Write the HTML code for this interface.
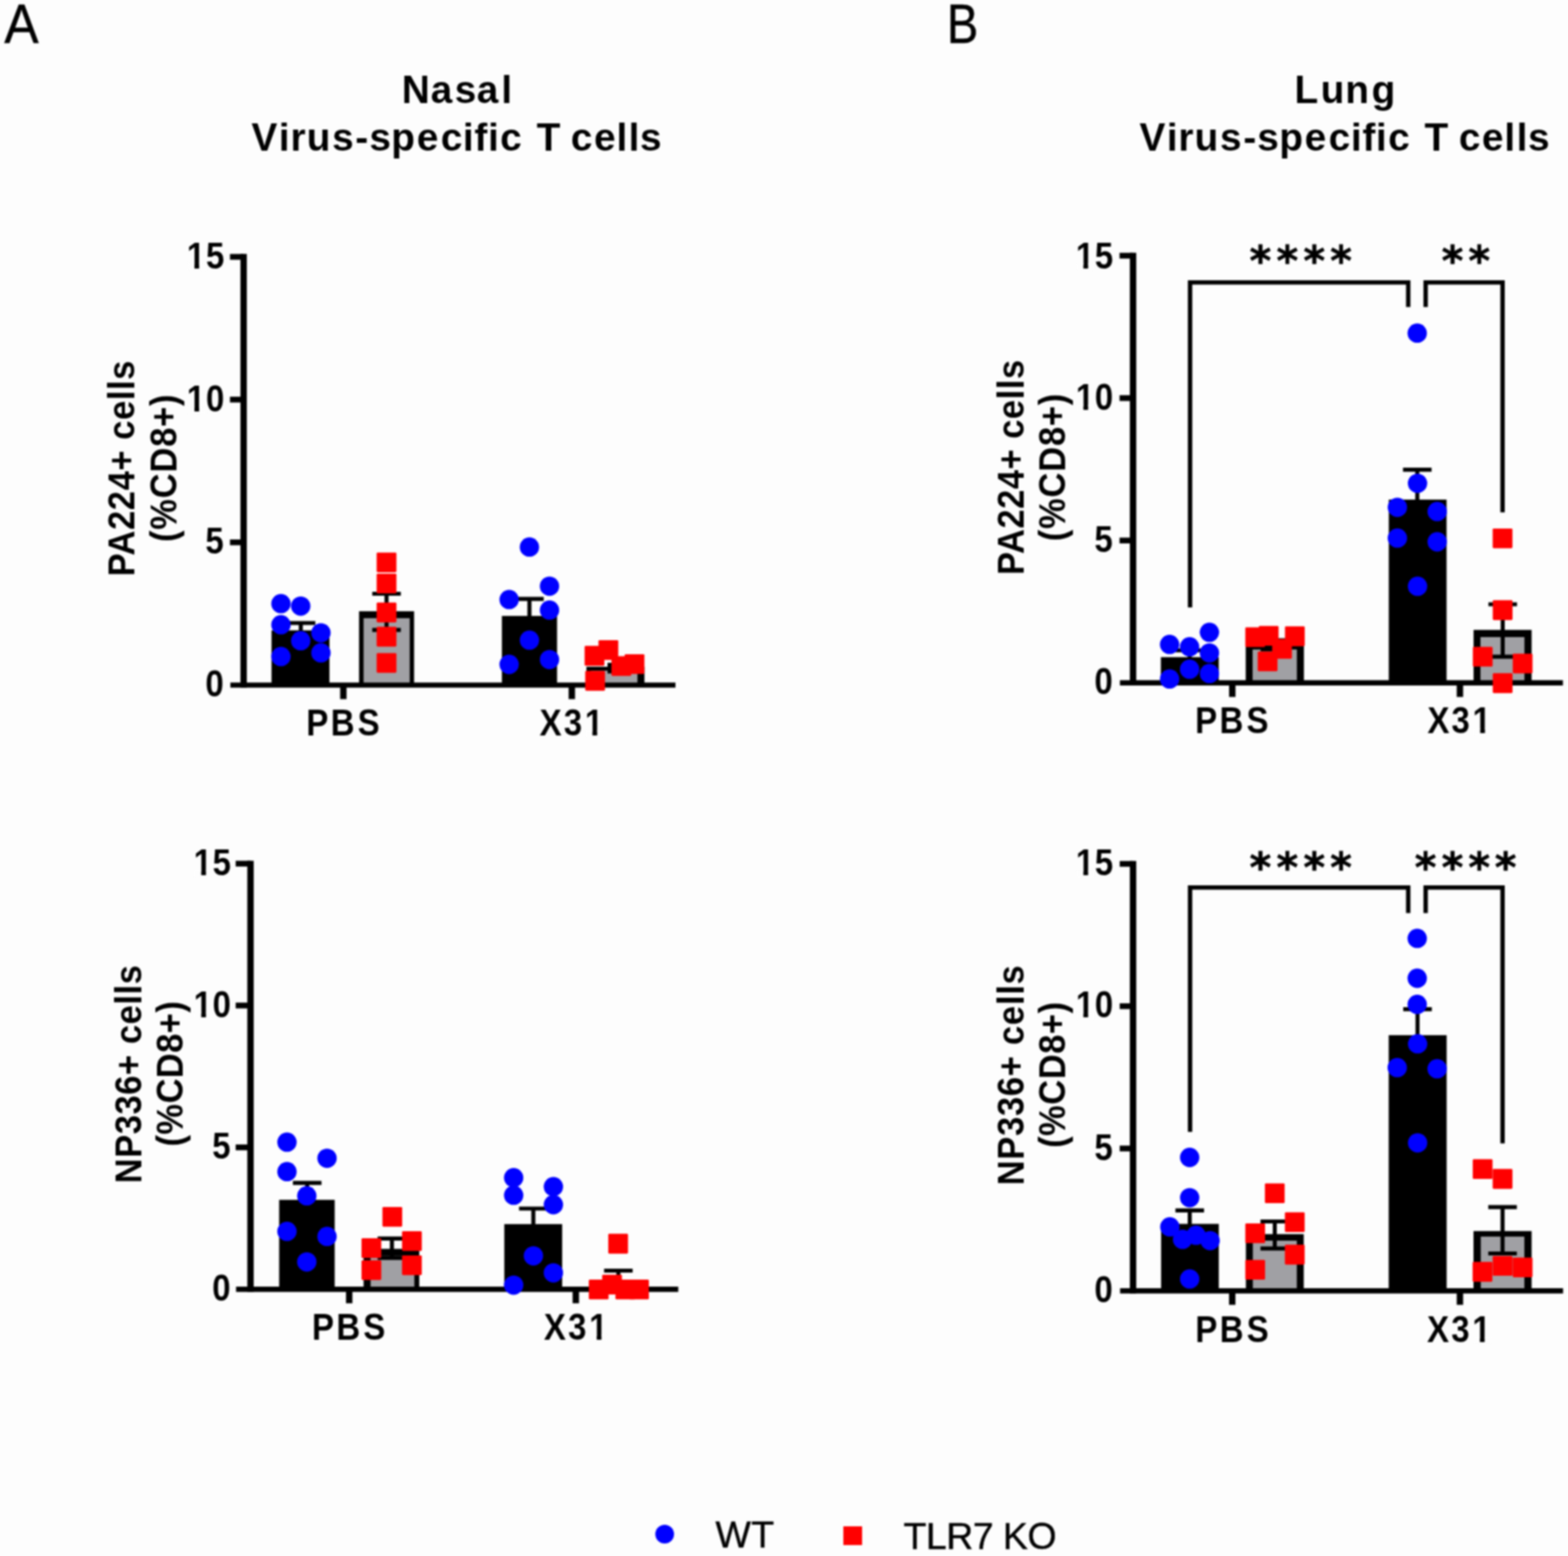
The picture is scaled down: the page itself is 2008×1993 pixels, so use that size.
<!DOCTYPE html>
<html lang="en">
<head>
<meta charset="utf-8">
<title>Virus-specific T cells: Nasal and Lung</title>
<style>
html,body{margin:0;padding:0;background:#fdfdfd;}
body{width:2008px;height:1993px;overflow:hidden;}
svg{display:block;}
#fig{filter:blur(1.3px);}
</style>
</head>
<body>
<svg width="2008" height="1993" viewBox="0 0 2008 1993">
<rect width="2008" height="1993" fill="#fdfdfd"/>
<g id="fig" fill="#000">
<text transform="translate(5.5,55.2) scale(0.95,1)" font-size="69.5" font-family="Liberation Sans, Arial, sans-serif" stroke="#000" stroke-width="0.5">A</text>
<text transform="translate(1212.5,55.2) scale(0.87,1)" font-size="69.5" font-family="Liberation Sans, Arial, sans-serif" stroke="#000" stroke-width="0.5">B</text>
<text transform="translate(0,132.3) scale(0.985,1)" x="522.23 559.93 591.23 619.83 651.69" font-size="50.5" font-family="Liberation Sans, Arial, sans-serif" font-weight="bold">Nasal</text>
<text transform="translate(0,192.8) scale(0.985,1)" x="327.02 362.50 377.67 398.69 431.64 461.97 480.17 508.72 541.77 573.12 601.89 616.80 634.43 650.38 678.47 697.71 728.56 742.21 772.33 801.54 817.32 832.04" font-size="50.5" font-family="Liberation Sans, Arial, sans-serif" font-weight="bold">Virus-specific T cells</text>
<text transform="translate(0,132.3) scale(0.985,1)" x="1683.05 1716.91 1749.05 1783.15" font-size="50.5" font-family="Liberation Sans, Arial, sans-serif" font-weight="bold">Lung</text>
<text transform="translate(0,192.8) scale(0.985,1)" x="1481.43 1516.92 1532.09 1553.10 1586.05 1616.39 1634.58 1663.14 1696.19 1727.54 1756.31 1771.21 1788.85 1804.80 1832.88 1852.13 1882.97 1896.62 1926.75 1955.95 1971.74 1986.46" font-size="50.5" font-family="Liberation Sans, Arial, sans-serif" font-weight="bold">Virus-specific T cells</text>
<g>
<rect x="347.7" y="807.4" width="74.20" height="70.10" fill="#000"/>
<line x1="385.2" y1="798" x2="385.2" y2="809.4" stroke="#000" stroke-width="5.2" stroke-linecap="butt"/>
<line x1="366.59999999999997" y1="798" x2="403.8" y2="798" stroke="#000" stroke-width="5.2" stroke-linecap="butt"/>
<rect x="459.8" y="782.9" width="70.50" height="94.60" fill="#000"/>
<rect x="465.60" y="791.80" width="59.10" height="85.70" fill="#a0a0a4"/>
<line x1="495" y1="760.5" x2="495" y2="806.9" stroke="#000" stroke-width="5.2" stroke-linecap="butt"/>
<line x1="476.7" y1="760.5" x2="513.3" y2="760.5" stroke="#000" stroke-width="5.2" stroke-linecap="butt"/>
<line x1="476.7" y1="806.9" x2="513.3" y2="806.9" stroke="#000" stroke-width="5.2" stroke-linecap="butt"/>
<rect x="642.7" y="788.9" width="70.70" height="88.60" fill="#000"/>
<line x1="678" y1="767.1" x2="678" y2="790.9" stroke="#000" stroke-width="5.2" stroke-linecap="butt"/>
<line x1="659.7" y1="767.1" x2="696.3" y2="767.1" stroke="#000" stroke-width="5.2" stroke-linecap="butt"/>
<rect x="751" y="854" width="74.30" height="23.50" fill="#000"/>
<rect x="757.00" y="859.00" width="59.30" height="18.50" fill="#a0a0a4"/>
<line x1="788" y1="851.5" x2="788" y2="860" stroke="#000" stroke-width="5.2" stroke-linecap="butt"/>
<line x1="778" y1="851.5" x2="798" y2="851.5" stroke="#000" stroke-width="5.2" stroke-linecap="butt"/>
<line x1="778" y1="860" x2="798" y2="860" stroke="#000" stroke-width="5.2" stroke-linecap="butt"/>
<line x1="312" y1="325.3" x2="312" y2="880.85" stroke="#000" stroke-width="8.2" stroke-linecap="butt"/>
<line x1="295" y1="877.5" x2="865" y2="877.5" stroke="#000" stroke-width="6.7" stroke-linecap="butt"/>
<line x1="294.5" y1="329.0" x2="312" y2="329.0" stroke="#000" stroke-width="7.4" stroke-linecap="butt"/>
<text transform="translate(0,343.6) scale(0.89,1)" x="268.84 296.25" font-size="47.5" font-family="Liberation Sans, Arial, sans-serif" font-weight="bold">15</text>
<rect x="240.11" y="337.66" width="8.89" height="8.08" fill="#fdfdfd"/>
<rect x="255.06" y="337.66" width="8.39" height="8.08" fill="#fdfdfd"/>
<line x1="294.5" y1="511.83333333333337" x2="312" y2="511.83333333333337" stroke="#000" stroke-width="7.4" stroke-linecap="butt"/>
<text transform="translate(0,527.2333333333333) scale(0.89,1)" x="268.84 296.25" font-size="47.5" font-family="Liberation Sans, Arial, sans-serif" font-weight="bold">10</text>
<rect x="240.11" y="521.30" width="8.89" height="8.08" fill="#fdfdfd"/>
<rect x="255.06" y="521.30" width="8.39" height="8.08" fill="#fdfdfd"/>
<line x1="294.5" y1="694.6666666666667" x2="312" y2="694.6666666666667" stroke="#000" stroke-width="7.4" stroke-linecap="butt"/>
<text transform="translate(0,709.2666666666668) scale(0.89,1)" x="295.58" font-size="47.5" font-family="Liberation Sans, Arial, sans-serif" font-weight="bold">5</text>
<text transform="translate(0,892.1) scale(0.89,1)" x="295.58" font-size="47.5" font-family="Liberation Sans, Arial, sans-serif" font-weight="bold">0</text>
<line x1="439.7" y1="877.5" x2="439.7" y2="895.5" stroke="#000" stroke-width="8.2" stroke-linecap="butt"/>
<line x1="732.3" y1="877.5" x2="732.3" y2="895.5" stroke="#000" stroke-width="8.2" stroke-linecap="butt"/>
<text transform="translate(0,941.5) scale(0.89,1)" x="440.80 475.93 514.68" font-size="47.5" font-family="Liberation Sans, Arial, sans-serif" font-weight="bold">PBS</text>
<text transform="translate(0,941.5) scale(0.89,1)" x="776.52 811.21 841.50" font-size="47.5" font-family="Liberation Sans, Arial, sans-serif" font-weight="bold">X31</text>
<rect x="749.78" y="935.56" width="8.89" height="8.08" fill="#fdfdfd"/>
<rect x="764.73" y="935.56" width="8.39" height="8.08" fill="#fdfdfd"/>
<circle cx="359.8" cy="773.2" r="12.4" fill="#0000ff"/>
<circle cx="385.1" cy="776.3" r="12.4" fill="#0000ff"/>
<circle cx="359.8" cy="800.2" r="12.4" fill="#0000ff"/>
<circle cx="411" cy="810.6" r="12.4" fill="#0000ff"/>
<circle cx="385.1" cy="820.7" r="12.4" fill="#0000ff"/>
<circle cx="359.8" cy="840.9" r="12.4" fill="#0000ff"/>
<circle cx="411" cy="836.2" r="12.4" fill="#0000ff"/>
<rect x="482.35" y="707.65" width="25.3" height="25.3" rx="1.4" fill="#ff0000"/>
<rect x="482.35" y="734.75" width="25.3" height="25.3" rx="1.4" fill="#ff0000"/>
<rect x="482.35" y="771.85" width="25.3" height="25.3" rx="1.4" fill="#ff0000"/>
<rect x="482.35" y="802.85" width="25.3" height="25.3" rx="1.4" fill="#ff0000"/>
<rect x="482.35" y="836.45" width="25.3" height="25.3" rx="1.4" fill="#ff0000"/>
<circle cx="678" cy="700.7" r="12.4" fill="#0000ff"/>
<circle cx="703.7" cy="750.8" r="12.4" fill="#0000ff"/>
<circle cx="652" cy="767.9" r="12.4" fill="#0000ff"/>
<circle cx="703.7" cy="781.4" r="12.4" fill="#0000ff"/>
<circle cx="678" cy="819.9" r="12.4" fill="#0000ff"/>
<circle cx="652" cy="851" r="12.4" fill="#0000ff"/>
<circle cx="703.7" cy="844.8" r="12.4" fill="#0000ff"/>
<rect x="748.65" y="827.35" width="25.3" height="25.3" rx="1.4" fill="#ff0000"/>
<rect x="766.45" y="819.95" width="25.3" height="25.3" rx="1.4" fill="#ff0000"/>
<rect x="783.05" y="840.45" width="25.3" height="25.3" rx="1.4" fill="#ff0000"/>
<rect x="799.95" y="837.95" width="25.3" height="25.3" rx="1.4" fill="#ff0000"/>
<rect x="749.45" y="859.35" width="25.3" height="25.3" rx="1.4" fill="#ff0000"/>
<text transform="translate(172.2,600.1) rotate(-90) scale(0.93,1)" font-size="47.5" text-anchor="middle" font-family="Liberation Sans, Arial, sans-serif" font-weight="bold" textLength="297.31" lengthAdjust="spacing">PA224+ cells</text>
<text transform="translate(225.7,599.7) rotate(-90) scale(0.93,1)" font-size="47.5" text-anchor="middle" font-family="Liberation Sans, Arial, sans-serif" font-weight="bold" textLength="203.23" lengthAdjust="spacing">(%CD8+)</text>
</g>
<g>
<rect x="357.5" y="1536.8" width="71.10" height="114.50" fill="#000"/>
<line x1="393.4" y1="1515.1" x2="393.4" y2="1538.8" stroke="#000" stroke-width="5.2" stroke-linecap="butt"/>
<line x1="375.09999999999997" y1="1515.1" x2="411.7" y2="1515.1" stroke="#000" stroke-width="5.2" stroke-linecap="butt"/>
<rect x="465.6" y="1599.6" width="71.30" height="51.70" fill="#000"/>
<rect x="474.60" y="1608.60" width="56.00" height="42.70" fill="#a0a0a4"/>
<line x1="501.9" y1="1586.3" x2="501.9" y2="1611.2" stroke="#000" stroke-width="5.2" stroke-linecap="butt"/>
<line x1="483.59999999999997" y1="1586.3" x2="520.1999999999999" y2="1586.3" stroke="#000" stroke-width="5.2" stroke-linecap="butt"/>
<line x1="483.59999999999997" y1="1611.2" x2="520.1999999999999" y2="1611.2" stroke="#000" stroke-width="5.2" stroke-linecap="butt"/>
<rect x="645.8" y="1567.9" width="74.10" height="83.40" fill="#000"/>
<line x1="683" y1="1548" x2="683" y2="1569.9" stroke="#000" stroke-width="5.2" stroke-linecap="butt"/>
<line x1="664.7" y1="1548" x2="701.3" y2="1548" stroke="#000" stroke-width="5.2" stroke-linecap="butt"/>
<rect x="756" y="1642" width="73.00" height="9.30" fill="#000"/>
<rect x="764.00" y="1648.00" width="57.00" height="3.30" fill="#a0a0a4"/>
<line x1="791.9" y1="1627.5" x2="791.9" y2="1648" stroke="#000" stroke-width="5.2" stroke-linecap="butt"/>
<line x1="773.6" y1="1627.5" x2="810.1999999999999" y2="1627.5" stroke="#000" stroke-width="5.2" stroke-linecap="butt"/>
<line x1="773.6" y1="1648" x2="810.1999999999999" y2="1648" stroke="#000" stroke-width="5.2" stroke-linecap="butt"/>
<line x1="320.8" y1="1102.5" x2="320.8" y2="1654.6499999999999" stroke="#000" stroke-width="8.2" stroke-linecap="butt"/>
<line x1="302.3" y1="1651.3" x2="868.6" y2="1651.3" stroke="#000" stroke-width="6.7" stroke-linecap="butt"/>
<line x1="301.8" y1="1106.2" x2="320.8" y2="1106.2" stroke="#000" stroke-width="7.4" stroke-linecap="butt"/>
<text transform="translate(0,1120.8) scale(0.89,1)" x="278.61 306.03" font-size="47.5" font-family="Liberation Sans, Arial, sans-serif" font-weight="bold">15</text>
<rect x="248.81" y="1114.86" width="8.89" height="8.08" fill="#fdfdfd"/>
<rect x="263.76" y="1114.86" width="8.39" height="8.08" fill="#fdfdfd"/>
<line x1="301.8" y1="1287.9" x2="320.8" y2="1287.9" stroke="#000" stroke-width="7.4" stroke-linecap="butt"/>
<text transform="translate(0,1302.5) scale(0.89,1)" x="278.61 306.03" font-size="47.5" font-family="Liberation Sans, Arial, sans-serif" font-weight="bold">10</text>
<rect x="248.81" y="1296.56" width="8.89" height="8.08" fill="#fdfdfd"/>
<rect x="263.76" y="1296.56" width="8.39" height="8.08" fill="#fdfdfd"/>
<line x1="301.8" y1="1469.6" x2="320.8" y2="1469.6" stroke="#000" stroke-width="7.4" stroke-linecap="butt"/>
<text transform="translate(0,1484.1999999999998) scale(0.89,1)" x="305.35" font-size="47.5" font-family="Liberation Sans, Arial, sans-serif" font-weight="bold">5</text>
<text transform="translate(0,1665.8999999999999) scale(0.89,1)" x="305.35" font-size="47.5" font-family="Liberation Sans, Arial, sans-serif" font-weight="bold">0</text>
<line x1="447.2" y1="1651.3" x2="447.2" y2="1669.3" stroke="#000" stroke-width="8.2" stroke-linecap="butt"/>
<line x1="737.4" y1="1651.3" x2="737.4" y2="1669.3" stroke="#000" stroke-width="8.2" stroke-linecap="butt"/>
<text transform="translate(0,1715.6) scale(0.89,1)" x="448.78 483.91 522.66" font-size="47.5" font-family="Liberation Sans, Arial, sans-serif" font-weight="bold">PBS</text>
<text transform="translate(0,1715.6) scale(0.89,1)" x="782.70 817.39 847.68" font-size="47.5" font-family="Liberation Sans, Arial, sans-serif" font-weight="bold">X31</text>
<rect x="755.28" y="1709.66" width="8.89" height="8.08" fill="#fdfdfd"/>
<rect x="770.23" y="1709.66" width="8.39" height="8.08" fill="#fdfdfd"/>
<circle cx="367.5" cy="1462.9" r="12.4" fill="#0000ff"/>
<circle cx="418.8" cy="1483.6" r="12.4" fill="#0000ff"/>
<circle cx="367.5" cy="1500.7" r="12.4" fill="#0000ff"/>
<circle cx="392.9" cy="1531.7" r="12.4" fill="#0000ff"/>
<circle cx="367.5" cy="1577.2" r="12.4" fill="#0000ff"/>
<circle cx="418.8" cy="1583.7" r="12.4" fill="#0000ff"/>
<circle cx="392.9" cy="1616.3" r="12.4" fill="#0000ff"/>
<rect x="489.75" y="1545.95" width="25.3" height="25.3" rx="1.4" fill="#ff0000"/>
<rect x="514.85" y="1577.05" width="25.3" height="25.3" rx="1.4" fill="#ff0000"/>
<rect x="462.95" y="1586.05" width="25.3" height="25.3" rx="1.4" fill="#ff0000"/>
<rect x="514.85" y="1607.95" width="25.3" height="25.3" rx="1.4" fill="#ff0000"/>
<rect x="462.95" y="1614.15" width="25.3" height="25.3" rx="1.4" fill="#ff0000"/>
<circle cx="657.8" cy="1508.4" r="12.4" fill="#0000ff"/>
<circle cx="708.7" cy="1520" r="12.4" fill="#0000ff"/>
<circle cx="657.8" cy="1530.9" r="12.4" fill="#0000ff"/>
<circle cx="708.7" cy="1543" r="12.4" fill="#0000ff"/>
<circle cx="683.1" cy="1608.6" r="12.4" fill="#0000ff"/>
<circle cx="708.7" cy="1630.3" r="12.4" fill="#0000ff"/>
<circle cx="657.8" cy="1646.1" r="12.4" fill="#0000ff"/>
<rect x="778.95" y="1580.35" width="25.3" height="25.3" rx="1.4" fill="#ff0000"/>
<rect x="771.15" y="1632.65" width="25.3" height="25.3" rx="1.4" fill="#ff0000"/>
<rect x="754.05" y="1639.05" width="25.3" height="25.3" rx="1.4" fill="#ff0000"/>
<rect x="788.15" y="1639.05" width="25.3" height="25.3" rx="1.4" fill="#ff0000"/>
<rect x="805.65" y="1639.05" width="25.3" height="25.3" rx="1.4" fill="#ff0000"/>
<text transform="translate(180.7,1375.9) rotate(-90) scale(0.93,1)" font-size="47.5" text-anchor="middle" font-family="Liberation Sans, Arial, sans-serif" font-weight="bold" textLength="300.54" lengthAdjust="spacing">NP336+ cells</text>
<text transform="translate(233.6,1375.4) rotate(-90) scale(0.93,1)" font-size="47.5" text-anchor="middle" font-family="Liberation Sans, Arial, sans-serif" font-weight="bold" textLength="200.00" lengthAdjust="spacing">(%CD8+)</text>
</g>
<g>
<rect x="1486.6" y="841.7" width="74.10" height="33.00" fill="#000"/>
<line x1="1523.5" y1="833" x2="1523.5" y2="843.7" stroke="#000" stroke-width="5.2" stroke-linecap="butt"/>
<line x1="1505.2" y1="833" x2="1541.8" y2="833" stroke="#000" stroke-width="5.2" stroke-linecap="butt"/>
<rect x="1595.3" y="826" width="74.50" height="48.70" fill="#000"/>
<rect x="1604.10" y="831.90" width="56.70" height="42.80" fill="#a0a0a4"/>
<line x1="1632.6" y1="820" x2="1632.6" y2="832" stroke="#000" stroke-width="5.2" stroke-linecap="butt"/>
<line x1="1614.3" y1="820" x2="1650.8999999999999" y2="820" stroke="#000" stroke-width="5.2" stroke-linecap="butt"/>
<line x1="1614.3" y1="832" x2="1650.8999999999999" y2="832" stroke="#000" stroke-width="5.2" stroke-linecap="butt"/>
<rect x="1778.5" y="639.9" width="74.00" height="234.80" fill="#000"/>
<line x1="1815" y1="601.6" x2="1815" y2="641.9" stroke="#000" stroke-width="5.2" stroke-linecap="butt"/>
<line x1="1796.7" y1="601.6" x2="1833.3" y2="601.6" stroke="#000" stroke-width="5.2" stroke-linecap="butt"/>
<rect x="1887.1" y="806.8" width="74.30" height="67.90" fill="#000"/>
<rect x="1895.90" y="816.00" width="56.30" height="58.70" fill="#a0a0a4"/>
<line x1="1924.4" y1="774" x2="1924.4" y2="841.2" stroke="#000" stroke-width="5.2" stroke-linecap="butt"/>
<line x1="1906.1000000000001" y1="774" x2="1942.7" y2="774" stroke="#000" stroke-width="5.2" stroke-linecap="butt"/>
<line x1="1906.1000000000001" y1="841.2" x2="1942.7" y2="841.2" stroke="#000" stroke-width="5.2" stroke-linecap="butt"/>
<line x1="1451" y1="323.8" x2="1451" y2="878.0500000000001" stroke="#000" stroke-width="8.2" stroke-linecap="butt"/>
<line x1="1434.2" y1="874.7" x2="2001.5" y2="874.7" stroke="#000" stroke-width="6.7" stroke-linecap="butt"/>
<line x1="1433.7" y1="327.5" x2="1451" y2="327.5" stroke="#000" stroke-width="7.4" stroke-linecap="butt"/>
<text transform="translate(0,343.6) scale(0.89,1)" x="1547.94 1575.35" font-size="47.5" font-family="Liberation Sans, Arial, sans-serif" font-weight="bold">15</text>
<rect x="1378.51" y="337.66" width="8.89" height="8.08" fill="#fdfdfd"/>
<rect x="1393.46" y="337.66" width="8.39" height="8.08" fill="#fdfdfd"/>
<line x1="1433.7" y1="509.9" x2="1451" y2="509.9" stroke="#000" stroke-width="7.4" stroke-linecap="butt"/>
<text transform="translate(0,524.5) scale(0.89,1)" x="1547.94 1575.35" font-size="47.5" font-family="Liberation Sans, Arial, sans-serif" font-weight="bold">10</text>
<rect x="1378.51" y="518.56" width="8.89" height="8.08" fill="#fdfdfd"/>
<rect x="1393.46" y="518.56" width="8.39" height="8.08" fill="#fdfdfd"/>
<line x1="1433.7" y1="692.3" x2="1451" y2="692.3" stroke="#000" stroke-width="7.4" stroke-linecap="butt"/>
<text transform="translate(0,706.9) scale(0.89,1)" x="1574.68" font-size="47.5" font-family="Liberation Sans, Arial, sans-serif" font-weight="bold">5</text>
<text transform="translate(0,889.3000000000001) scale(0.89,1)" x="1574.68" font-size="47.5" font-family="Liberation Sans, Arial, sans-serif" font-weight="bold">0</text>
<line x1="1578.1" y1="874.7" x2="1578.1" y2="892.7" stroke="#000" stroke-width="8.2" stroke-linecap="butt"/>
<line x1="1869.6" y1="874.7" x2="1869.6" y2="892.7" stroke="#000" stroke-width="8.2" stroke-linecap="butt"/>
<text transform="translate(0,939) scale(0.89,1)" x="1719.56 1754.70 1793.45" font-size="47.5" font-family="Liberation Sans, Arial, sans-serif" font-weight="bold">PBS</text>
<text transform="translate(0,939) scale(0.89,1)" x="2053.93 2088.62 2118.91" font-size="47.5" font-family="Liberation Sans, Arial, sans-serif" font-weight="bold">X31</text>
<rect x="1886.68" y="933.06" width="8.89" height="8.08" fill="#fdfdfd"/>
<rect x="1901.63" y="933.06" width="8.39" height="8.08" fill="#fdfdfd"/>
<circle cx="1548.8" cy="809.9" r="12.4" fill="#0000ff"/>
<circle cx="1497.8" cy="825.4" r="12.4" fill="#0000ff"/>
<circle cx="1523.4" cy="828.5" r="12.4" fill="#0000ff"/>
<circle cx="1548.8" cy="836.3" r="12.4" fill="#0000ff"/>
<circle cx="1523.4" cy="857.2" r="12.4" fill="#0000ff"/>
<circle cx="1548.8" cy="862.7" r="12.4" fill="#0000ff"/>
<circle cx="1497.8" cy="869.7" r="12.4" fill="#0000ff"/>
<rect x="1594.75" y="803.45" width="25.3" height="25.3" rx="1.4" fill="#ff0000"/>
<rect x="1612.05" y="801.65" width="25.3" height="25.3" rx="1.4" fill="#ff0000"/>
<rect x="1645.55" y="802.35" width="25.3" height="25.3" rx="1.4" fill="#ff0000"/>
<rect x="1629.15" y="818.45" width="25.3" height="25.3" rx="1.4" fill="#ff0000"/>
<rect x="1610.65" y="834.45" width="25.3" height="25.3" rx="1.4" fill="#ff0000"/>
<circle cx="1814.9" cy="426.7" r="12.4" fill="#0000ff"/>
<circle cx="1815.3" cy="619.1" r="12.4" fill="#0000ff"/>
<circle cx="1789.5" cy="649.8" r="12.4" fill="#0000ff"/>
<circle cx="1840.5" cy="655.2" r="12.4" fill="#0000ff"/>
<circle cx="1789.5" cy="689.2" r="12.4" fill="#0000ff"/>
<circle cx="1840.5" cy="694" r="12.4" fill="#0000ff"/>
<circle cx="1815.3" cy="750.9" r="12.4" fill="#0000ff"/>
<rect x="1911.55" y="676.95" width="25.3" height="25.3" rx="1.4" fill="#ff0000"/>
<rect x="1911.65" y="768.85" width="25.3" height="25.3" rx="1.4" fill="#ff0000"/>
<rect x="1886.15" y="828.55" width="25.3" height="25.3" rx="1.4" fill="#ff0000"/>
<rect x="1937.25" y="837.15" width="25.3" height="25.3" rx="1.4" fill="#ff0000"/>
<rect x="1911.65" y="862.35" width="25.3" height="25.3" rx="1.4" fill="#ff0000"/>
<path d="M1524 778 V361.8 H1803.4 V393.3" fill="none" stroke="#000" stroke-width="5.6" stroke-linejoin="miter"/>
<text x="1614.0 1648.5 1683.0 1717.3" y="353" font-size="53" text-anchor="middle" font-family="DejaVu Sans, Liberation Sans, sans-serif" font-weight="bold" stroke="#000" stroke-width="0.7">****</text>
<path d="M1825.7 393.3 V361.8 H1924.2 V656.3" fill="none" stroke="#000" stroke-width="5.6" stroke-linejoin="miter"/>
<text x="1860.0 1894.3" y="353" font-size="53" text-anchor="middle" font-family="DejaVu Sans, Liberation Sans, sans-serif" font-weight="bold" stroke="#000" stroke-width="0.7">**</text>
<text transform="translate(1311.3,598.7) rotate(-90) scale(0.93,1)" font-size="47.5" text-anchor="middle" font-family="Liberation Sans, Arial, sans-serif" font-weight="bold" textLength="296.24" lengthAdjust="spacing">PA224+ cells</text>
<text transform="translate(1363.8,598.7) rotate(-90) scale(0.93,1)" font-size="47.5" text-anchor="middle" font-family="Liberation Sans, Arial, sans-serif" font-weight="bold" textLength="203.23" lengthAdjust="spacing">(%CD8+)</text>
</g>
<g>
<rect x="1486.9" y="1567.6" width="73.90" height="85.70" fill="#000"/>
<line x1="1523.6" y1="1550.4" x2="1523.6" y2="1569.6" stroke="#000" stroke-width="5.2" stroke-linecap="butt"/>
<line x1="1505.3" y1="1550.4" x2="1541.8999999999999" y2="1550.4" stroke="#000" stroke-width="5.2" stroke-linecap="butt"/>
<rect x="1595.5" y="1580.7" width="74.10" height="72.60" fill="#000"/>
<rect x="1604.40" y="1589.10" width="56.30" height="64.20" fill="#a0a0a4"/>
<line x1="1632.5" y1="1564.5" x2="1632.5" y2="1599.2" stroke="#000" stroke-width="5.2" stroke-linecap="butt"/>
<line x1="1614.2" y1="1564.5" x2="1650.8" y2="1564.5" stroke="#000" stroke-width="5.2" stroke-linecap="butt"/>
<line x1="1614.2" y1="1599.2" x2="1650.8" y2="1599.2" stroke="#000" stroke-width="5.2" stroke-linecap="butt"/>
<rect x="1778.4" y="1325.9" width="74.20" height="327.40" fill="#000"/>
<line x1="1815.3" y1="1292.6" x2="1815.3" y2="1327.9" stroke="#000" stroke-width="5.2" stroke-linecap="butt"/>
<line x1="1797.0" y1="1292.6" x2="1833.6" y2="1292.6" stroke="#000" stroke-width="5.2" stroke-linecap="butt"/>
<rect x="1887" y="1576.8" width="74.40" height="76.50" fill="#000"/>
<rect x="1896.30" y="1583.90" width="55.80" height="69.40" fill="#a0a0a4"/>
<line x1="1924.2" y1="1546.1" x2="1924.2" y2="1605.5" stroke="#000" stroke-width="5.2" stroke-linecap="butt"/>
<line x1="1905.9" y1="1546.1" x2="1942.5" y2="1546.1" stroke="#000" stroke-width="5.2" stroke-linecap="butt"/>
<line x1="1905.9" y1="1605.5" x2="1942.5" y2="1605.5" stroke="#000" stroke-width="5.2" stroke-linecap="butt"/>
<line x1="1451" y1="1102.8" x2="1451" y2="1656.6499999999999" stroke="#000" stroke-width="8.2" stroke-linecap="butt"/>
<line x1="1434.4" y1="1653.3" x2="2001.7" y2="1653.3" stroke="#000" stroke-width="6.7" stroke-linecap="butt"/>
<line x1="1433.9" y1="1106.5" x2="1451" y2="1106.5" stroke="#000" stroke-width="7.4" stroke-linecap="butt"/>
<text transform="translate(0,1121.1) scale(0.89,1)" x="1547.94 1575.35" font-size="47.5" font-family="Liberation Sans, Arial, sans-serif" font-weight="bold">15</text>
<rect x="1378.51" y="1115.16" width="8.89" height="8.08" fill="#fdfdfd"/>
<rect x="1393.46" y="1115.16" width="8.39" height="8.08" fill="#fdfdfd"/>
<line x1="1433.9" y1="1288.7666666666667" x2="1451" y2="1288.7666666666667" stroke="#000" stroke-width="7.4" stroke-linecap="butt"/>
<text transform="translate(0,1303.3666666666666) scale(0.89,1)" x="1547.94 1575.35" font-size="47.5" font-family="Liberation Sans, Arial, sans-serif" font-weight="bold">10</text>
<rect x="1378.51" y="1297.43" width="8.89" height="8.08" fill="#fdfdfd"/>
<rect x="1393.46" y="1297.43" width="8.39" height="8.08" fill="#fdfdfd"/>
<line x1="1433.9" y1="1471.0333333333333" x2="1451" y2="1471.0333333333333" stroke="#000" stroke-width="7.4" stroke-linecap="butt"/>
<text transform="translate(0,1485.6333333333332) scale(0.89,1)" x="1574.68" font-size="47.5" font-family="Liberation Sans, Arial, sans-serif" font-weight="bold">5</text>
<text transform="translate(0,1667.8999999999999) scale(0.89,1)" x="1574.68" font-size="47.5" font-family="Liberation Sans, Arial, sans-serif" font-weight="bold">0</text>
<line x1="1578" y1="1653.3" x2="1578" y2="1671.3" stroke="#000" stroke-width="8.2" stroke-linecap="butt"/>
<line x1="1869.6" y1="1653.3" x2="1869.6" y2="1671.3" stroke="#000" stroke-width="8.2" stroke-linecap="butt"/>
<text transform="translate(0,1718.7) scale(0.89,1)" x="1720.01 1755.15 1793.90" font-size="47.5" font-family="Liberation Sans, Arial, sans-serif" font-weight="bold">PBS</text>
<text transform="translate(0,1718.7) scale(0.89,1)" x="2053.48 2088.17 2118.46" font-size="47.5" font-family="Liberation Sans, Arial, sans-serif" font-weight="bold">X31</text>
<rect x="1886.28" y="1712.76" width="8.89" height="8.08" fill="#fdfdfd"/>
<rect x="1901.23" y="1712.76" width="8.39" height="8.08" fill="#fdfdfd"/>
<circle cx="1523.5" cy="1482.5" r="12.4" fill="#0000ff"/>
<circle cx="1523.5" cy="1534.1" r="12.4" fill="#0000ff"/>
<circle cx="1498.1" cy="1571.4" r="12.4" fill="#0000ff"/>
<circle cx="1514.4" cy="1587.4" r="12.4" fill="#0000ff"/>
<circle cx="1531.6" cy="1582.2" r="12.4" fill="#0000ff"/>
<circle cx="1549.7" cy="1589.1" r="12.4" fill="#0000ff"/>
<circle cx="1523.5" cy="1638.2" r="12.4" fill="#0000ff"/>
<rect x="1619.85" y="1515.75" width="25.3" height="25.3" rx="1.4" fill="#ff0000"/>
<rect x="1645.45" y="1552.75" width="25.3" height="25.3" rx="1.4" fill="#ff0000"/>
<rect x="1594.75" y="1567.05" width="25.3" height="25.3" rx="1.4" fill="#ff0000"/>
<rect x="1645.45" y="1594.35" width="25.3" height="25.3" rx="1.4" fill="#ff0000"/>
<rect x="1594.75" y="1613.75" width="25.3" height="25.3" rx="1.4" fill="#ff0000"/>
<circle cx="1814.9" cy="1201.9" r="12.4" fill="#0000ff"/>
<circle cx="1814.9" cy="1253" r="12.4" fill="#0000ff"/>
<circle cx="1814.9" cy="1286.5" r="12.4" fill="#0000ff"/>
<circle cx="1815.4" cy="1336.9" r="12.4" fill="#0000ff"/>
<circle cx="1789.3" cy="1367.4" r="12.4" fill="#0000ff"/>
<circle cx="1840.4" cy="1368.9" r="12.4" fill="#0000ff"/>
<circle cx="1815.4" cy="1463.8" r="12.4" fill="#0000ff"/>
<rect x="1886.05" y="1484.75" width="25.3" height="25.3" rx="1.4" fill="#ff0000"/>
<rect x="1911.55" y="1497.35" width="25.3" height="25.3" rx="1.4" fill="#ff0000"/>
<rect x="1911.55" y="1608.75" width="25.3" height="25.3" rx="1.4" fill="#ff0000"/>
<rect x="1937.25" y="1610.65" width="25.3" height="25.3" rx="1.4" fill="#ff0000"/>
<rect x="1885.85" y="1616.35" width="25.3" height="25.3" rx="1.4" fill="#ff0000"/>
<path d="M1524 1449.8 V1136.8 H1803.4 V1169.5" fill="none" stroke="#000" stroke-width="5.6" stroke-linejoin="miter"/>
<text x="1614.0 1648.5 1683.0 1717.3" y="1129.5" font-size="53" text-anchor="middle" font-family="DejaVu Sans, Liberation Sans, sans-serif" font-weight="bold" stroke="#000" stroke-width="0.7">****</text>
<path d="M1825.7 1169.5 V1136.8 H1924.2 V1464.6" fill="none" stroke="#000" stroke-width="5.6" stroke-linejoin="miter"/>
<text x="1825.7 1860.0 1894.3 1928.0" y="1129.5" font-size="53" text-anchor="middle" font-family="DejaVu Sans, Liberation Sans, sans-serif" font-weight="bold" stroke="#000" stroke-width="0.7">****</text>
<text transform="translate(1311.3,1377.3) rotate(-90) scale(0.93,1)" font-size="47.5" text-anchor="middle" font-family="Liberation Sans, Arial, sans-serif" font-weight="bold" textLength="303.23" lengthAdjust="spacing">NP336+ cells</text>
<text transform="translate(1363.8,1376.8) rotate(-90) scale(0.93,1)" font-size="47.5" text-anchor="middle" font-family="Liberation Sans, Arial, sans-serif" font-weight="bold" textLength="201.08" lengthAdjust="spacing">(%CD8+)</text>
</g>
<circle cx="851.2" cy="1965.1" r="12" fill="#0000ff"/>
<text x="953.8" y="1981.8" font-size="48" text-anchor="middle" font-family="Liberation Sans, Arial, sans-serif" stroke="#000" stroke-width="0.5" textLength="75.00" lengthAdjust="spacing">WT</text>
<rect x="1080" y="1955" width="24" height="24" fill="#ff0000"/>
<text x="1255" y="1984" font-size="48" text-anchor="middle" font-family="Liberation Sans, Arial, sans-serif" stroke="#000" stroke-width="0.5" textLength="196.00" lengthAdjust="spacing">TLR7 KO</text>
</g></svg>
</body>
</html>
